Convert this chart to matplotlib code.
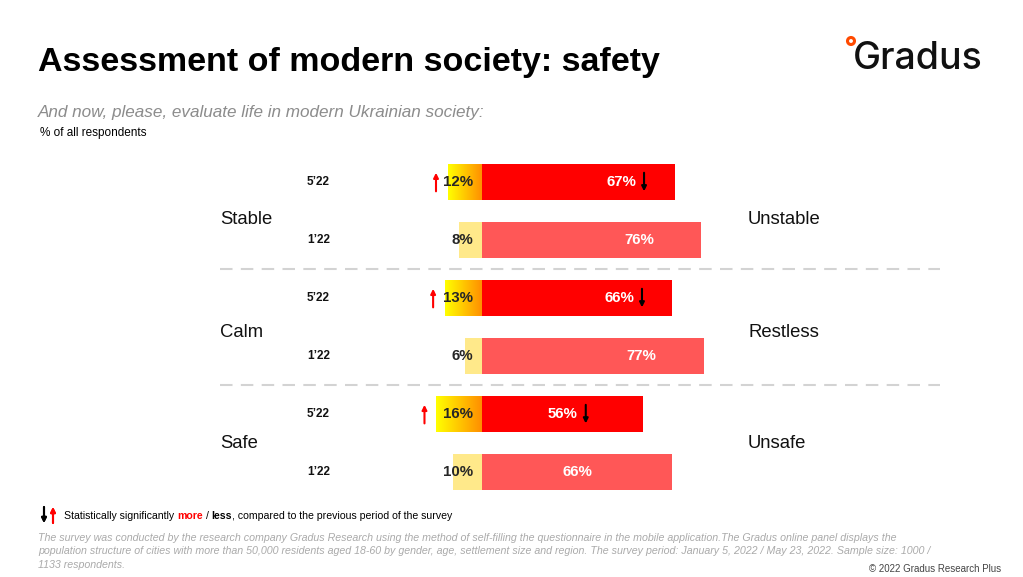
import matplotlib.pyplot as plt
import numpy as np
from matplotlib.colors import LinearSegmentedColormap
from matplotlib.transforms import blended_transform_factory
from matplotlib.patches import Ellipse

plt.rcParams['font.family'] = ['Liberation Sans', 'DejaVu Sans']

# Données
groups = ["Stable", "Calm", "Safe"]
opposites = ["Unstable", "Restless", "Unsafe"]
periods = ["5’22", "1’22"]
left_5 = [12, 13, 16]
right_5 = [67, 66, 56]
left_1 = [8, 6, 10]
right_1 = [76, 77, 66]
sig_up_left = [True, True, True]
sig_down_right = [True, True, True]

W, H = 1023, 577
fig = plt.figure(figsize=(W / 100, H / 100), dpi=100)


def fx(x):
    return x / W


def fy(y):
    return 1 - y / H


# Axe principal (barres)
ax = fig.add_axes([fx(220), fy(500), fx(940) - fx(220), (500 - 150) / H])
ax.set_xlim(-91, 159)
ax.set_ylim(5.48, -0.552)
ax.axis('off')

grad = LinearSegmentedColormap.from_list("grad", ["#FFFF00", "#FF8C00"])
h = 0.62
tr = blended_transform_factory(fig.transFigure, ax.transData)
label_y = [0.65, 0.6, 0.5]
vfs = 10.8

for i in range(len(groups)):
    y5 = 2 * i
    y1 = 2 * i + 1
    # 5'22 - gauche en dégradé
    ax.imshow(np.linspace(0, 1, 100).reshape(1, -1), cmap=grad, aspect='auto',
              extent=(-left_5[i], 0, y5 + h / 2, y5 - h / 2), zorder=2)
    ax.barh(y5, right_5[i], height=h, color="#FF0000", zorder=2)
    # 1'22
    ax.barh(y1, -left_1[i], height=h, color="#FFE98A", zorder=2)
    ax.barh(y1, right_1[i], height=h, color="#FF5757", zorder=2)

    # valeurs à gauche
    ax.text(-3, y5, f"{left_5[i]}%", ha='right', va='center', fontsize=vfs,
            fontweight='bold', color="#262626", zorder=3)
    ax.text(-3, y1, f"{left_1[i]}%", ha='right', va='center', fontsize=vfs,
            fontweight='bold', color="#262626", zorder=3)

    # valeurs à droite
    frac = 0.72 if i < 2 else 0.5
    x5 = right_5[i] * frac
    x1 = right_1[i] * frac
    ax.text(x5, y5, f"{right_5[i]}%", ha='center', va='center', fontsize=vfs,
            fontweight='bold', color="white", zorder=3)
    ax.text(x1, y1, f"{right_1[i]}%", ha='center', va='center', fontsize=vfs,
            fontweight='bold', color="white", zorder=3)

    # flèches de significativité
    if sig_up_left[i]:
        xa = -left_5[i] - 4
        ax.annotate('', xy=(xa, y5 - 0.16), xytext=(xa, y5 + 0.16),
                    arrowprops=dict(arrowstyle='-|>', color='red', lw=1.5,
                                    mutation_scale=7, shrinkA=0, shrinkB=0),
                    zorder=3)
    if sig_down_right[i]:
        xa = x5 + 8
        ax.annotate('', xy=(xa, y5 + 0.16), xytext=(xa, y5 - 0.16),
                    arrowprops=dict(arrowstyle='-|>', color='black', lw=1.5,
                                    mutation_scale=7, shrinkA=0, shrinkB=0),
                    zorder=3)

    # périodes
    ax.text(-52.8, y5, periods[0], ha='right', va='center', fontsize=8.5,
            fontweight='bold', color="#111111")
    ax.text(-52.8, y1, periods[1], ha='right', va='center', fontsize=8.5,
            fontweight='bold', color="#111111")

    # catégories
    yc = y5 + label_y[i]
    ax.text(fx(220), yc, groups[i], transform=tr, ha='left', va='center',
            fontsize=13.3, color="#111111")
    ax.text(fx(748), yc, opposites[i], transform=tr, ha='left', va='center',
            fontsize=13.3, color="#111111")

# séparateurs
for ys in [1.5, 3.5]:
    ax.axhline(ys, color="#D3D3D3", lw=1.5, linestyle=(0, (6, 4)), zorder=1)

# Titres
fig.text(fx(38), fy(62), "Assessment of modern society: safety", fontsize=24.5,
         fontweight='bold', ha='left', va='center', color="black")
fig.text(fx(38), fy(113), "And now, please, evaluate life in modern Ukrainian society:",
         fontsize=12.3, style='italic', color="#8C8C8C", ha='left', va='center')
fig.text(fx(40), fy(133), "% of all respondents", fontsize=8.5, color="black",
         ha='left', va='center')

# Logo
fig.text(fx(853), fy(59), "Gradus", fontsize=27, family=['Inter', 'DejaVu Sans'],
         fontweight='medium', ha='left', va='center', color="#111111")
fig.add_artist(Ellipse((fx(851), fy(41)), 7 / W, 7 / H, transform=fig.transFigure,
                       facecolor='white', edgecolor='#FF4A00', lw=2.2))

# Légende
fig.add_artist(plt.annotate('', xy=(fx(44), fy(523)), xytext=(fx(44), fy(507)),
                            xycoords='figure fraction', textcoords='figure fraction',
                            arrowprops=dict(arrowstyle='-|>', color='black', lw=1.5,
                                            mutation_scale=7, shrinkA=0, shrinkB=0)))
fig.add_artist(plt.annotate('', xy=(fx(53), fy(507)), xytext=(fx(53), fy(523)),
                            xycoords='figure fraction', textcoords='figure fraction',
                            arrowprops=dict(arrowstyle='-|>', color='red', lw=1.5,
                                            mutation_scale=7, shrinkA=0, shrinkB=0)))
fs = 7.6
t1 = fig.text(fx(64), fy(516), "Statistically significantly", fontsize=fs,
              ha='left', va='center')
t2 = fig.text(0, 0, "more", fontsize=fs, fontweight='bold', color='red')
t3 = fig.text(0, 0, "/", fontsize=fs)
t4 = fig.text(0, 0, "less", fontsize=fs, fontweight='bold')
t5 = fig.text(0, 0, ", compared to the previous period of the survey", fontsize=fs)
gaps = [3, 3, 3, 0]
fig.canvas.draw()
r = fig.canvas.get_renderer()
prev = t1
for t, g in zip([t2, t3, t4, t5], gaps):
    bb = prev.get_window_extent(r)
    t.set_position(((bb.x1 + g) / fig.bbox.width, fy(516)))
    t.set_va('center')
    t.set_ha('left')
    prev = t

notes = ["The survey was conducted by the research company Gradus Research using the method of self-filling the questionnaire in the mobile application.The Gradus online panel displays the",
         "population structure of cities with more than 50,000 residents aged 18-60 by gender, age, settlement size and region. The survey period: January 5, 2022 / May 23, 2022. Sample size: 1000 /",
         "1133 respondents."]
for k, line in enumerate(notes):
    fig.text(fx(38), fy(538 + 13.5 * k), line, fontsize=7.65, style='italic',
             color="#AAAAAA", ha='left', va='center')

fig.text(fx(1001), fy(569), "© 2022 Gradus Research Plus", fontsize=7,
         color="#444444", ha='right', va='center')

fig.savefig("out.png", dpi=100)
